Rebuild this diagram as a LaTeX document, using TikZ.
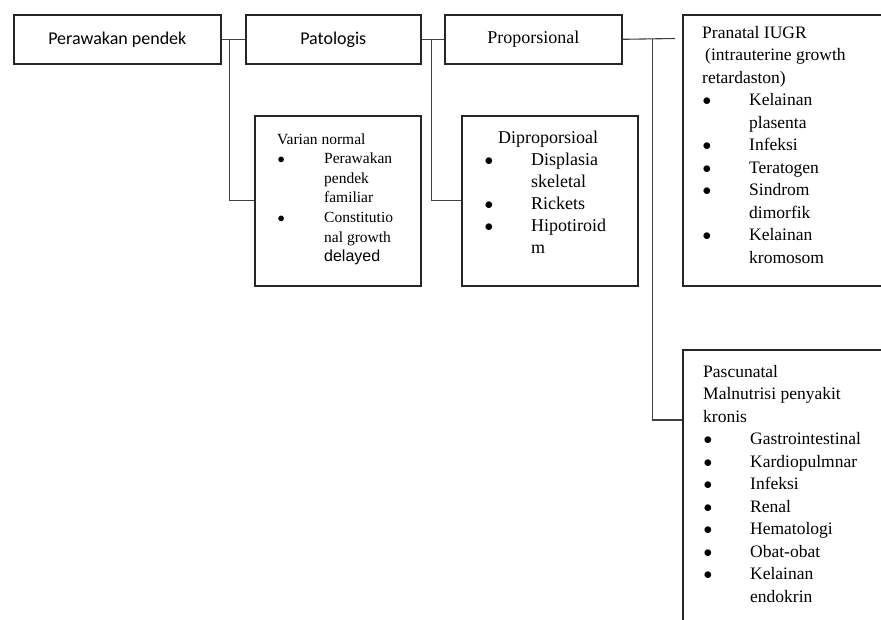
\documentclass[tikz,border=0pt]{standalone}
\usepackage{fontspec}
\setmainfont{Liberation Serif}
\newfontfamily\calib{Carlito}
\newfontfamily\arialf{Liberation Sans}
\newcommand\B{\makebox[47pt][l]{\hspace{0.5pt}$\bullet$}}
\newcommand\C{\hspace{47pt}}
\begin{document}
\begin{tikzpicture}[x=1pt,y=-1pt,
  box/.style={draw=black!85,line width=1.6pt,rectangle,inner sep=0pt,anchor=north west},
  conn/.style={draw=black!75,line width=1.1pt},
  ln/.style={anchor=base west,inner sep=0pt},
  big/.style={font=\fontsize{18}{22}\selectfont},
  mid/.style={font=\fontsize{17.5}{22}\selectfont},
  small/.style={font=\fontsize{15.5}{19}\selectfont}]
\useasboundingbox[fill=white] (0,0) rectangle (881,619);

% top row
\node[box,minimum width=207pt,minimum height=49pt,font=\calib\fontsize{18}{22}\selectfont] (pp) at (13,14) {Perawakan pendek};
\node[box,minimum width=175pt,minimum height=49pt,font=\calib\fontsize{18}{22}\selectfont] (pat) at (245,14) {Patologis};
\node[box,big,minimum width=177pt,minimum height=49pt] (pro) at (444,14) {Proporsional};

% content boxes
\node[box,minimum width=220pt,minimum height=271pt] (pra) at (682,14) {};
\node[box,minimum width=166pt,minimum height=170pt] (var) at (254,115) {};
\node[box,minimum width=176pt,minimum height=170pt] (dip) at (461,115) {};
\node[box,minimum width=220pt,minimum height=300pt] (pas) at (682,349) {};

% connectors
\coordinate (pend) at (675,38.5);
\draw[conn] (pp.east) -- (pat.west);
\draw[conn] ([xshift=8pt]pp.east) |- (var.west);
\draw[conn] (pat.east) -- (pro.west);
\draw[conn] ([xshift=10pt]pat.east) |- (dip.west);
\draw[conn] (pro.east) -- (pend);
\draw[conn] ([xshift=30pt]pro.east) |- ([yshift=-71pt]pas.north west);

% Pranatal text
\foreach \t [count=\i] in {Pranatal IUGR, {\hspace{3pt}(intrauterine growth}, retardaston), \B Kelainan, \C plasenta, \B Infeksi, \B Teratogen, \B Sindrom, \C dimorfik, \B Kelainan, \C kromosom}
  \node[ln,mid] (pra\i) at (702,15.5+22.5*\i) {\t};

% Varian normal text
\foreach \t [count=\i] in {Varian normal, \B Perawakan, \C pendek, \C familiar, \B Constitutio, \C nal growth, {\C{\arialf\fontsize{16}{19}\selectfont delayed}}}
  \node[ln,small] (var\i) at (277,124.4+19.6*\i) {\t};

% Diproporsioal text
\node[ln,big] (diptitle) at (498,143) {Diproporsioal};
\foreach \t [count=\i] in {\B Displasia, \C skeletal, \B Rickets, \B Hipotiroid, \C m}
  \node[ln,big] (dip\i) at (484,143+22*\i) {\t};

% Pascunatal text
\foreach \t [count=\i] in {Pascunatal, Malnutrisi penyakit, kronis, \B Gastrointestinal, \B Kardiopulmnar, \B Infeksi, \B Renal, \B Hematologi, \B Obat-obat, \B Kelainan, \C endokrin}
  \node[ln,mid] (pas\i) at (703,354.5+22.5*\i) {\t};
\end{tikzpicture}
\end{document}
